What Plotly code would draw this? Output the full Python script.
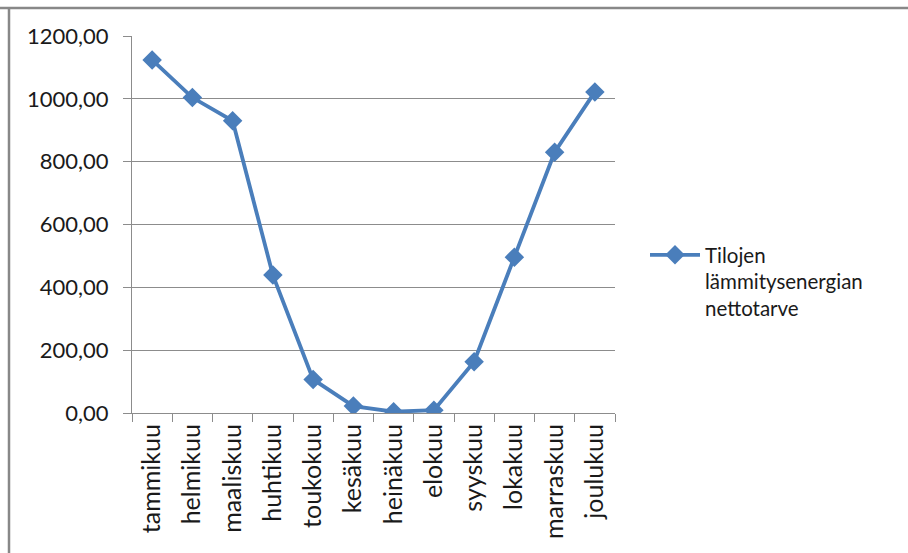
import plotly.graph_objects as go

# Monthly net heating energy demand of the spaces
months = ["tammikuu", "helmikuu", "maaliskuu", "huhtikuu", "toukokuu", "kesäkuu",
          "heinäkuu", "elokuu", "syyskuu", "lokakuu", "marraskuu", "joulukuu"]
demand = [1124, 1004, 930, 439, 107, 22, 4, 9, 163, 496, 830, 1022]
series_name = "Tilojen<br>lämmitysenergian<br>nettotarve"
y_ticks = [0, 200, 400, 600, 800, 1000, 1200]

BLUE = "#4A7EBB"
GRID = "#8C8C8C"
FONT = "Lato"
TEXT = "#1a1a1a"

W, H = 908, 553
L, R, T, B = 132, 293, 36, 140

fig = go.Figure()
fig.add_trace(go.Scatter(
    x=months, y=demand, name=series_name, mode="lines+markers",
    line=dict(color=BLUE, width=3.8),
    marker=dict(symbol="diamond", size=15, color=BLUE),
))

pw = W - L - R
ph = H - T - B


def px_x(p):
    return (p - L) / pw


def px_y(p):
    return 1 - (p - T) / ph


fig.update_layout(
    width=W, height=H,
    margin=dict(l=L, r=R, t=T, b=B),
    paper_bgcolor="white", plot_bgcolor="white",
    separators=", ",
    font=dict(family=FONT, size=21, color=TEXT),
    showlegend=True,
    legend=dict(
        x=px_x(645), y=px_y(235), xanchor="left", yanchor="top",
        valign="top", itemwidth=50, font=dict(size=20.5, color=TEXT),
        bgcolor="rgba(0,0,0,0)",
    ),
    xaxis=dict(
        type="category", tickangle=-90,
        tickfont=dict(size=25, color=TEXT),
        showline=True, linecolor=GRID, linewidth=1.3,
        ticks="outside", tickson="boundaries", ticklen=8, tickcolor=GRID,
        showgrid=False, range=[-0.5, 11.5], fixedrange=True,
    ),
    yaxis=dict(
        range=[0, 1200], tickvals=y_ticks, tickformat=".2f",
        tickfont=dict(size=22, color=TEXT),
        showline=True, linecolor=GRID, linewidth=1.3,
        ticks="outside", ticklen=8, tickcolor=GRID,
        ticklabelstandoff=10,
        showgrid=True, gridcolor=GRID, gridwidth=1.3, zeroline=False,
    ),
    shapes=[
        dict(type="line", xref="paper", yref="paper",
             x0=px_x(0), x1=px_x(W), y0=px_y(8), y1=px_y(8),
             line=dict(color="#888888", width=2.5)),
        dict(type="line", xref="paper", yref="paper",
             x0=px_x(9), x1=px_x(9), y0=px_y(7), y1=px_y(H),
             line=dict(color="#888888", width=2.5)),
    ],
)

fig.write_html("out.html")
